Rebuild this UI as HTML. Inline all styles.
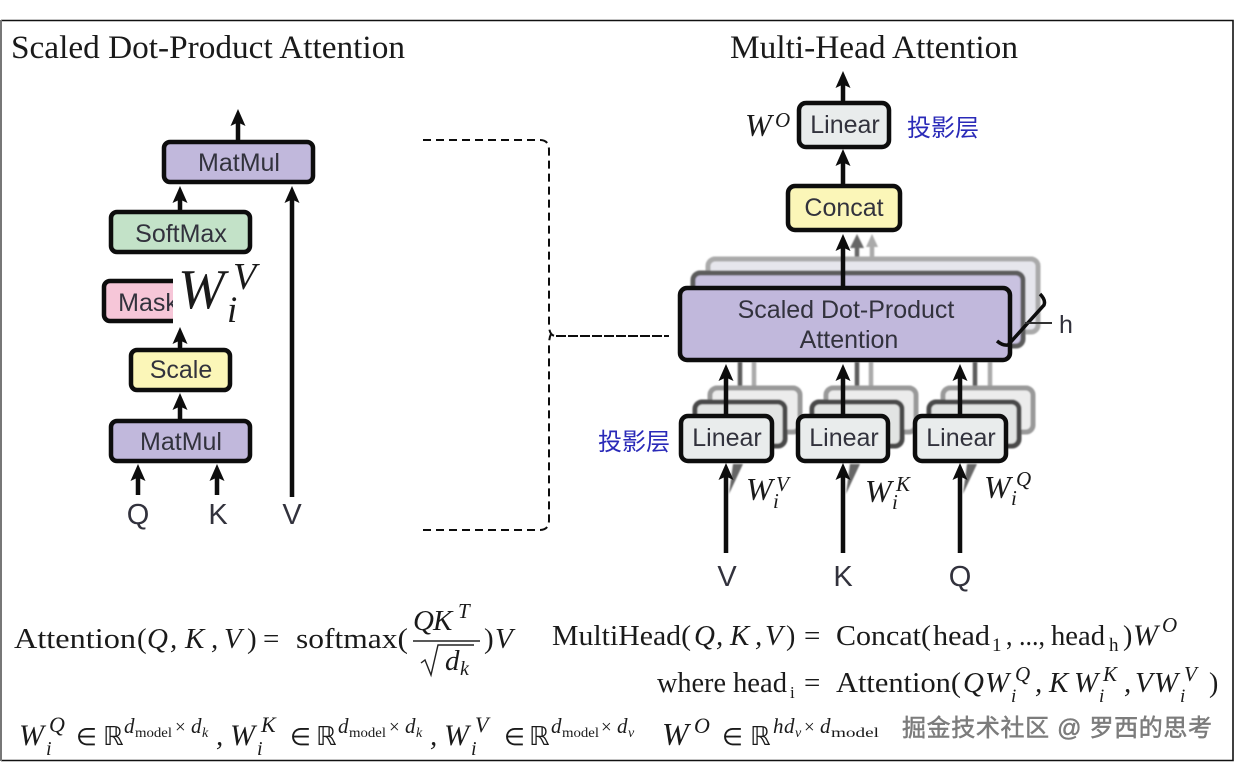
<!DOCTYPE html>
<html><head><meta charset="utf-8"><style>
html,body{margin:0;padding:0;background:#fff;width:1234px;height:763px;overflow:hidden}
svg{display:block}
.s{font-family:"Liberation Serif",serif;fill:#1a1a1a}
.i{font-family:"Liberation Serif",serif;font-style:italic;fill:#1a1a1a}
.d{font-family:"DejaVu Sans",sans-serif;fill:#1a1a1a}
.h{font-family:"Liberation Sans",sans-serif;fill:#33333c;text-anchor:middle;font-size:25px}
.cn{font-family:"Liberation Sans","Noto Sans CJK SC",sans-serif;fill:#2a2ab8;font-size:24px}
.b{stroke:#0a0a0a;stroke-width:4.5px}
.a{stroke:#0a0a0a;stroke-width:4.5px;fill:none}
</style></head><body>
<svg width="1234" height="763" viewBox="0 0 1234 763" xmlns="http://www.w3.org/2000/svg">
<defs>
<filter id="bl" x="-10%" y="-10%" width="120%" height="120%"><feGaussianBlur stdDeviation="0.8"/></filter>
<filter id="sl" x="-5%" y="-5%" width="110%" height="110%"><feGaussianBlur stdDeviation="0.35"/></filter>
<path id="ah" d="M0 0L7.5 17L0 13.5L-7.5 17Z" fill="#0a0a0a"/>
</defs>
<rect width="1234" height="763" fill="#fff"/>
<path d="M1 20.5H1233V760.5H1" fill="none" stroke="#111" stroke-width="1.6"/>
<rect x="0" y="20" width="2" height="741" fill="#777"/>

<text class="s" x="11" y="58" font-size="33" textLength="394" lengthAdjust="spacingAndGlyphs">Scaled Dot-Product Attention</text>
<text class="s" x="730" y="58" font-size="33" textLength="288" lengthAdjust="spacingAndGlyphs">Multi-Head Attention</text>

<g filter="url(#sl)">
<!-- left diagram -->
<g class="a"><path d="M238 141V118"/><path d="M180 211V194"/><path d="M180 280V262"/><path d="M180 348V334"/><path d="M180 419V402"/><path d="M138 495V474"/><path d="M217 495V474"/><path d="M292 497V196"/></g>
<use href="#ah" x="238" y="109"/><use href="#ah" x="180" y="186"/><use href="#ah" x="180" y="327"/><use href="#ah" x="180" y="393"/><use href="#ah" x="138" y="464"/><use href="#ah" x="217" y="464"/><use href="#ah" x="292" y="186"/>
<rect class="b" x="164" y="142" width="149" height="40" rx="6" fill="#c1b8dc"/>
<rect class="b" x="111" y="212" width="139" height="40" rx="6" fill="#c3e2c8"/>
<rect class="b" x="104" y="281" width="140" height="40" rx="6" fill="#f6c6d8"/>
<rect class="b" x="131" y="350" width="99" height="40" rx="6" fill="#fbf6b8"/>
<rect class="b" x="111" y="421" width="139" height="40" rx="6" fill="#c1b8dc"/>
<text class="h" x="239" y="171">MatMul</text>
<text class="h" x="181" y="242">SoftMax</text>
<text class="h" x="148" y="311">Mask</text>
<text class="h" x="181" y="378">Scale</text>
<text class="h" x="181" y="450">MatMul</text>
<rect x="173" y="256" width="92" height="71" fill="#fff"/>
<text class="h" x="138" y="524" style="font-size:29px">Q</text>
<text class="h" x="218" y="524" style="font-size:29px">K</text>
<text class="h" x="292" y="524" style="font-size:29px">V</text>

<!-- dashed bracket -->
<g fill="none" stroke="#111" stroke-width="2" stroke-dasharray="8 5">
<path d="M423 140H540Q549 140 549 150V325Q549 335 555 336"/>
<path d="M423 530H540Q549 530 549 520V345Q549 338 551 334"/>
</g>
<path d="M556 336H669" stroke="#111" stroke-width="2" stroke-dasharray="10 2" fill="none"/>

<!-- right diagram back layers -->
<g filter="url(#bl)">
<path d="M872 262V246" stroke="#aaa" stroke-width="4.5"/><path d="M872 234l6 13h-12z" fill="#aaa"/>
<path d="M857 275V246" stroke="#666" stroke-width="4.5"/><path d="M857 234l7 14h-14z" fill="#666"/>
<rect x="708" y="259" width="330" height="73" rx="7" fill="#e6e6ec" stroke="#aaa" stroke-width="5"/>
<rect x="693" y="273" width="330" height="73" rx="7" fill="#c9c2e0" stroke="#5c5c5c" stroke-width="5"/>
<g stroke="#aaa" stroke-width="4.5" fill="none"><path d="M754 388V362"/><path d="M871 388V362"/><path d="M990 388V362"/></g>
<g stroke="#5c5c5c" stroke-width="4.5" fill="none"><path d="M740 402V362"/><path d="M857 402V362"/><path d="M975 402V362"/></g>
<g fill="#ececec" stroke="#999" stroke-width="5">
<rect x="710" y="388" width="90" height="44" rx="7"/><rect x="826" y="388" width="90" height="44" rx="7"/><rect x="943" y="388" width="90" height="44" rx="7"/></g>
<g fill="#e2e4e3" stroke="#4a4a4a" stroke-width="5">
<rect x="695" y="402" width="90" height="44" rx="7"/><rect x="812" y="402" width="90" height="44" rx="7"/><rect x="929" y="402" width="90" height="44" rx="7"/></g>
<g fill="#666"><path d="M733 464h10l-14 30z"/><path d="M850 464h10l-14 30z"/><path d="M967 464h10l-14 30z"/></g>
</g>

<!-- right diagram fronts -->
<g class="a"><path d="M843 102V84"/><path d="M843 185V160"/><path d="M843 287V246"/>
<path d="M726 415V376"/><path d="M843 415V376"/><path d="M960 415V376"/>
<path d="M726 553V474"/><path d="M843 553V474"/><path d="M960 553V474"/></g>
<use href="#ah" x="843" y="71"/><use href="#ah" x="843" y="149"/><use href="#ah" x="843" y="234"/>
<use href="#ah" x="726" y="364"/><use href="#ah" x="843" y="364"/><use href="#ah" x="960" y="364"/>
<use href="#ah" x="726" y="463"/><use href="#ah" x="843" y="463"/><use href="#ah" x="960" y="463"/>
<rect class="b" x="799" y="103" width="90" height="44" rx="7" fill="#e9ecec"/>
<rect class="b" x="788" y="186" width="112" height="44" rx="7" fill="#fbf6b8"/>
<rect class="b" x="680" y="288" width="330" height="72" rx="7" fill="#c1b8dc"/>
<rect class="b" x="681" y="416" width="91" height="45" rx="7" fill="#e9ecec"/>
<rect class="b" x="798" y="416" width="90" height="45" rx="7" fill="#e9ecec"/>
<rect class="b" x="915" y="416" width="91" height="45" rx="7" fill="#e9ecec"/>
<text class="h" x="845" y="133">Linear</text>
<text class="h" x="844" y="216">Concat</text>
<text class="h" x="846" y="318">Scaled Dot-Product</text>
<text class="h" x="849" y="348">Attention</text>
<text class="h" x="727" y="446">Linear</text>
<text class="h" x="844" y="446">Linear</text>
<text class="h" x="961" y="446">Linear</text>
<path d="M997 341Q1003 346 1008 345L1044 305Q1046 300 1040 294" fill="none" stroke="#0a0a0a" stroke-width="3.5"/>
<path d="M1025 323H1052" stroke="#333" stroke-width="2"/>
<text class="h" x="1066" y="333">h</text>
<text class="h" x="727" y="586" style="font-size:29px">V</text>
<text class="h" x="843" y="586" style="font-size:29px">K</text>
<text class="h" x="960" y="586" style="font-size:29px">Q</text>
</g>

<text class="cn" x="907" y="136" textLength="72">投影层</text>
<text class="cn" x="598" y="450" textLength="72">投影层</text>

<!-- big overlay -->
<text class="i" x="178" y="308" font-size="56">W</text>
<text class="i" x="233" y="289" font-size="38">V</text>
<text class="i" x="227" y="322" font-size="37">i</text>

<!-- small labels -->
<text class="i" x="745" y="136" font-size="32">W</text><text class="i" x="775" y="127" font-size="21">O</text>
<text class="i" x="746" y="500" font-size="32">W</text><text class="i" x="776" y="491" font-size="21">V</text><text class="i" x="773" y="508" font-size="21">i</text>
<text class="i" x="865" y="502" font-size="32">W</text><text class="i" x="896" y="491" font-size="21">K</text><text class="i" x="892" y="509" font-size="21">i</text>
<text class="i" x="984" y="498" font-size="32">W</text><text class="i" x="1016" y="486" font-size="21">Q</text><text class="i" x="1011" y="505" font-size="21">i</text>

<!-- formula left -->
<text class="s" x="14" y="648" font-size="29" textLength="122" lengthAdjust="spacingAndGlyphs">Attention</text>
<text class="s" x="137" y="648" font-size="29">(</text>
<text class="i" x="147" y="648" font-size="29">Q</text><text class="i" x="170" y="648" font-size="29">,</text>
<text class="i" x="185" y="648" font-size="29">K</text><text class="i" x="211" y="648" font-size="29">,</text>
<text class="i" x="224" y="648" font-size="29">V</text>
<text class="s" x="247" y="648" font-size="29">)</text>
<text class="s" x="263" y="648" font-size="29">=</text>
<text class="s" x="296" y="648" font-size="29" textLength="112" lengthAdjust="spacingAndGlyphs">softmax(</text>
<text class="i" x="413" y="630" font-size="29">Q</text><text class="i" x="433" y="630" font-size="29">K</text><text class="i" x="458" y="618" font-size="21">T</text>
<path d="M413 641H480" stroke="#222" stroke-width="1.4" fill="none"/>
<path d="M421 663l4 -3l6 15l7 -30H474" stroke="#222" stroke-width="1.4" fill="none"/>
<text class="i" x="445" y="670" font-size="29">d</text><text class="i" x="460" y="675" font-size="20">k</text>
<text class="s" x="484" y="648" font-size="29">)</text>
<text class="i" x="495" y="648" font-size="29">V</text>

<!-- formula right -->
<text class="s" x="552" y="645" font-size="28" textLength="139" lengthAdjust="spacingAndGlyphs">MultiHead(</text>
<text class="i" x="694" y="645" font-size="29">Q</text><text class="i" x="716" y="645" font-size="29">,</text>
<text class="i" x="730" y="645" font-size="29">K</text><text class="i" x="755" y="645" font-size="29">,</text>
<text class="i" x="765" y="645" font-size="29">V</text>
<text class="s" x="786" y="645" font-size="28">)</text>
<text class="s" x="804" y="645" font-size="29">=</text>
<text class="s" x="836" y="645" font-size="28" textLength="95" lengthAdjust="spacingAndGlyphs">Concat(</text>
<text class="s" x="933" y="645" font-size="28" textLength="57" lengthAdjust="spacingAndGlyphs">head</text><text class="s" x="992" y="651" font-size="19">1</text>
<text class="s" x="1006" y="645" font-size="28" textLength="39" lengthAdjust="spacingAndGlyphs">, ...,</text>
<text class="s" x="1051" y="645" font-size="28" textLength="54" lengthAdjust="spacingAndGlyphs">head</text><text class="s" x="1109" y="651" font-size="19">h</text>
<text class="s" x="1123" y="645" font-size="28">)</text>
<text class="i" x="1133" y="645" font-size="30">W</text><text class="i" x="1162" y="632" font-size="21">O</text>

<text class="s" x="657" y="692" font-size="28" textLength="69" lengthAdjust="spacingAndGlyphs">where</text>
<text class="s" x="733" y="692" font-size="28" textLength="54" lengthAdjust="spacingAndGlyphs">head</text><text class="s" x="790" y="698" font-size="17">i</text>
<text class="s" x="804" y="692" font-size="29">=</text>
<text class="s" x="836" y="692" font-size="28" textLength="125" lengthAdjust="spacingAndGlyphs">Attention(</text>
<text class="i" x="963" y="692" font-size="29">Q</text><text class="i" x="985" y="692" font-size="29">W</text><text class="i" x="1015" y="681" font-size="21">Q</text><text class="i" x="1011" y="702" font-size="19">i</text>
<text class="i" x="1035" y="692" font-size="29">,</text>
<text class="i" x="1049" y="692" font-size="29">K</text><text class="i" x="1074" y="692" font-size="29">W</text><text class="i" x="1103" y="681" font-size="21">K</text><text class="i" x="1099" y="702" font-size="19">i</text>
<text class="i" x="1124" y="692" font-size="29">,</text>
<text class="i" x="1135" y="692" font-size="29">V</text><text class="i" x="1154" y="692" font-size="29">W</text><text class="i" x="1184" y="681" font-size="21">V</text><text class="i" x="1180" y="702" font-size="19">i</text>
<text class="s" x="1209" y="692" font-size="28">)</text>

<!-- bottom row -->
<g>
<text class="i" x="19" y="745" font-size="30">W</text><text class="i" x="49" y="732" font-size="22">Q</text><text class="i" x="46" y="755" font-size="20">i</text>
<text class="d" x="76" y="745" font-size="24">∈</text>
<text class="d" x="103" y="745" font-size="26">ℝ</text>
<text class="i" x="124" y="733" font-size="21">d</text><text class="s" x="135" y="737" font-size="14" textLength="37" lengthAdjust="spacingAndGlyphs">model</text><text class="s" x="175" y="733" font-size="19">×</text><text class="i" x="191" y="733" font-size="21">d</text><text class="i" x="202" y="737" font-size="14">k</text>
<text class="i" x="216" y="745" font-size="29">,</text>

<text class="i" x="230" y="745" font-size="30">W</text><text class="i" x="261" y="732" font-size="22">K</text><text class="i" x="257" y="755" font-size="20">i</text>
<text class="d" x="290" y="745" font-size="24">∈</text>
<text class="d" x="316" y="745" font-size="26">ℝ</text>
<text class="i" x="338" y="733" font-size="21">d</text><text class="s" x="349" y="737" font-size="14" textLength="37" lengthAdjust="spacingAndGlyphs">model</text><text class="s" x="389" y="733" font-size="19">×</text><text class="i" x="405" y="733" font-size="21">d</text><text class="i" x="416" y="737" font-size="14">k</text>
<text class="i" x="430" y="745" font-size="29">,</text>

<text class="i" x="444" y="745" font-size="30">W</text><text class="i" x="475" y="732" font-size="22">V</text><text class="i" x="471" y="755" font-size="20">i</text>
<text class="d" x="504" y="745" font-size="24">∈</text>
<text class="d" x="529" y="745" font-size="26">ℝ</text>
<text class="i" x="551" y="733" font-size="21">d</text><text class="s" x="562" y="737" font-size="14" textLength="37" lengthAdjust="spacingAndGlyphs">model</text><text class="s" x="601" y="733" font-size="19">×</text><text class="i" x="617" y="733" font-size="21">d</text><text class="i" x="628" y="737" font-size="14">v</text>

<text class="i" x="662" y="745" font-size="32">W</text><text class="i" x="694" y="733" font-size="22">O</text>
<text class="d" x="722" y="745" font-size="24">∈</text>
<text class="d" x="750" y="745" font-size="26">ℝ</text>
<text class="i" x="773" y="733" font-size="21">h</text><text class="i" x="784" y="733" font-size="21">d</text><text class="i" x="795" y="737" font-size="14">v</text><text class="s" x="804" y="733" font-size="19">×</text><text class="i" x="820" y="733" font-size="21">d</text><text class="s" x="831" y="737" font-size="14" textLength="48" lengthAdjust="spacingAndGlyphs">model</text>
</g>

<text x="902" y="736" font-size="24" textLength="310" style="font-family:'Liberation Sans','Noto Sans CJK SC',sans-serif;fill:#7c7c7c;stroke:#7c7c7c;stroke-width:0.5">掘金技术社区 @ 罗西的思考</text>
</svg>
</body></html>
